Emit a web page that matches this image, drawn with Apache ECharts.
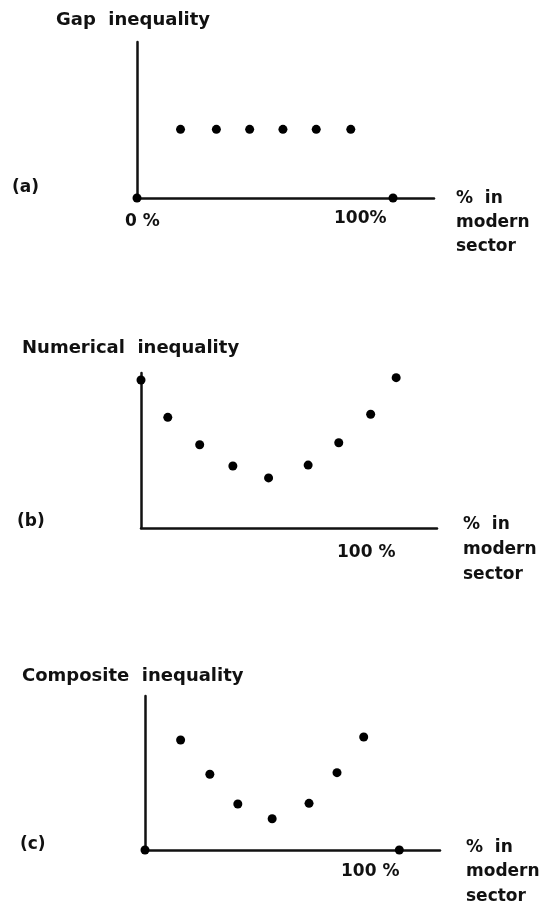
<!DOCTYPE html>
<html>
<head>
<meta charset="utf-8">
<script src="https://cdn.jsdelivr.net/npm/echarts@6/dist/echarts.min.js"></script>
<style>
html,body{margin:0;padding:0;background:#fff;}
#chart{width:545px;height:919px;}
</style>
</head>
<body>
<div id="chart"></div>
<script>
// ---- data ----
const gapX = [0, 17, 31, 44, 57, 70, 83.5, 100];
const gapY = [0, 4.4, 4.4, 4.4, 4.4, 4.4, 4.4, 0];
const numX = [0, 10.5, 23, 36, 50, 65.5, 77.5, 90, 100];
const numY = [9.55, 7.14, 5.37, 4.0, 3.23, 4.06, 5.5, 7.34, 9.7];
const compX = [0, 14, 25.5, 36.5, 50, 64.5, 75.5, 86, 100];
const compY = [0, 7.14, 4.92, 2.99, 2.03, 3.03, 5.02, 7.34, 0];
const panelTitles = ['Gap  inequality', 'Numerical  inequality', 'Composite  inequality'];
const panelTags = ['(a)', '(b)', '(c)'];
const zeroLabel = '0 %';
const fullLabels = ['100%', '100 %', '100 %'];
const xAxisName = ['%  in', 'modern', 'sector'];

const chart = echarts.init(document.getElementById('chart'));
const FONT = 'bold 17px "DejaVu Sans"';
const TFONT = 'bold 18px "DejaVu Sans"';

const grids = [
  {left: 137, top: 42, width: 297, height: 156},
  {left: 141, top: 373, width: 296, height: 155},
  {left: 145, top: 696, width: 295, height: 154}
];

function pairs(xs, ys){ return xs.map((x,i)=>[x, ys[i]]); }

const xAxes = grids.map((g,i)=>({
  type:'value', gridIndex:i, min:0, max:116,
  axisLine:{show:true, onZero:false, lineStyle:{color:'#111', width:2.5}},
  axisTick:{show:false}, axisLabel:{show:false}, splitLine:{show:false}
}));
const yAxes = grids.map((g,i)=>({
  type:'value', gridIndex:i, min:0, max:10,
  axisLine:{show:true, onZero:false, lineStyle:{color:'#111', width:2.5}},
  axisTick:{show:false}, axisLabel:{show:false}, splitLine:{show:false}
}));

const seriesData = [pairs(gapX, gapY), pairs(numX, numY), pairs(compX, compY)];
const series = seriesData.map((d,i)=>({
  type:'scatter', xAxisIndex:i, yAxisIndex:i, data:d,
  symbol:'circle', symbolSize:9, clip:false,
  itemStyle:{color:'#000', opacity:1}, silent:true
}));

function txt(s, x, y, f){
  return {type:'text', x:x, y:y, style:{text:s, x:0, y:0, font:f || FONT, fill:'#111', verticalAlign:'middle', textAlign:'left'}};
}

const graphic = [
  txt(panelTitles[0], 56, 20, TFONT),
  txt(panelTags[0], 12, 188),
  txt(zeroLabel, 125, 222),
  txt(fullLabels[0], 334, 219),
  txt(xAxisName[0], 456, 199),
  txt(xAxisName[1], 456, 223),
  txt(xAxisName[2], 456, 247),

  txt(panelTitles[1], 22, 348, TFONT),
  txt(panelTags[1], 17, 522),
  txt(fullLabels[1], 337, 553),
  txt(xAxisName[0], 463, 525),
  txt(xAxisName[1], 463, 550),
  txt(xAxisName[2], 463, 575),

  txt(panelTitles[2], 22, 676, TFONT),
  txt(panelTags[2], 20, 845),
  txt(fullLabels[2], 341, 872),
  txt(xAxisName[0], 466, 848),
  txt(xAxisName[1], 466, 872),
  txt(xAxisName[2], 466, 897)
];

chart.setOption({
  animation:false,
  backgroundColor:'#fff',
  grid: grids,
  xAxis: xAxes,
  yAxis: yAxes,
  series: series,
  graphic: graphic
});
</script>
</body>
</html>
